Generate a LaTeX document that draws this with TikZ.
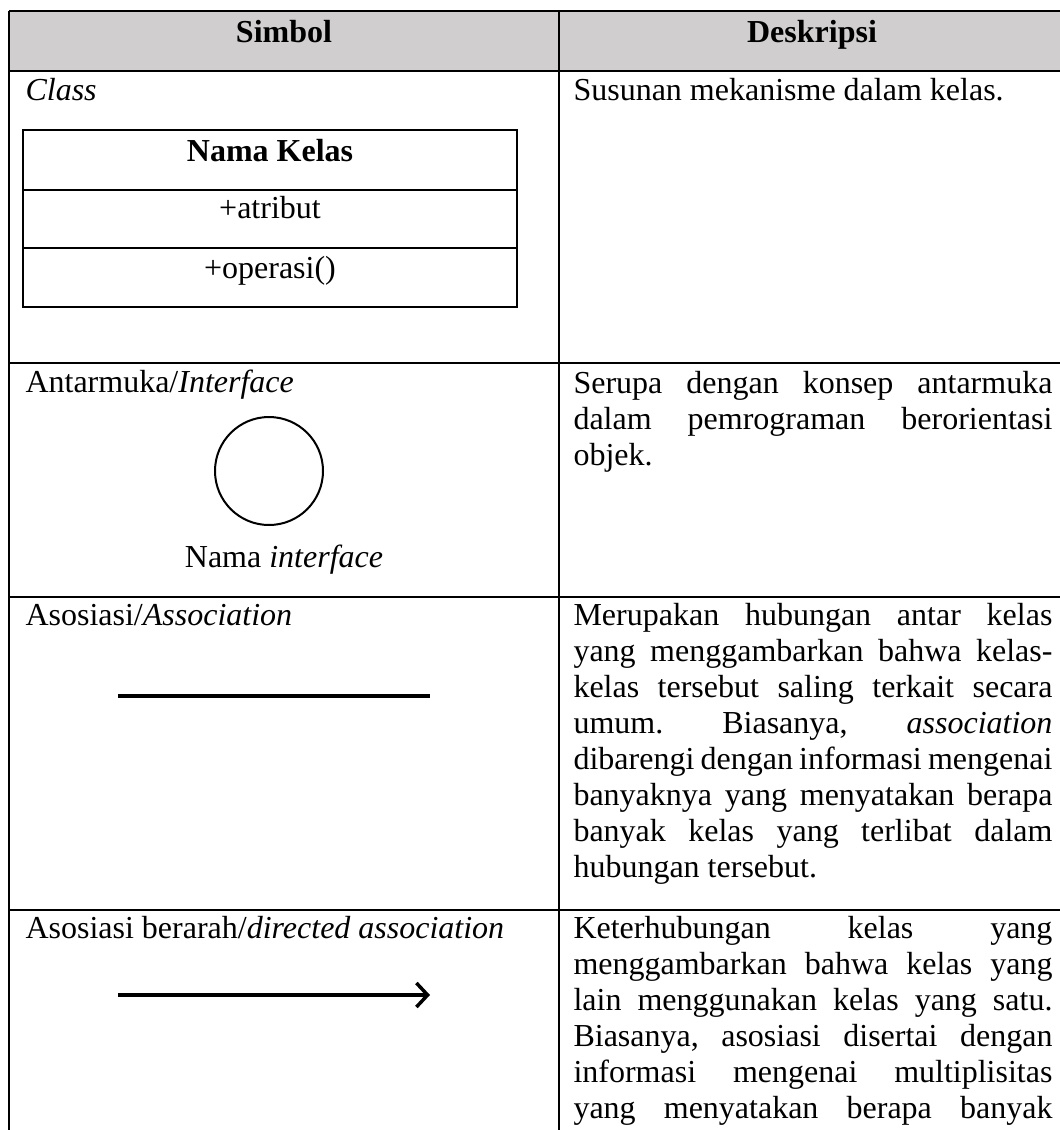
\documentclass[tikz,border=0pt]{standalone}
\usepackage{fontspec}
\setmainfont{Liberation Serif}
\usetikzlibrary{arrows.meta}

\definecolor{headgray}{RGB}{208,206,206}
\hyphenpenalty=10000
\frenchspacing

\tikzset{
  tabline/.style={line width=0.75pt},
  lbl/.style={anchor=base west, inner sep=0pt},
  ctr/.style={anchor=base, inner sep=0pt},
  desc/.style={anchor=base west, inner sep=0pt, text width=179.6pt, align=justify},
  umlline/.style={line width=1.5pt},
}

\begin{document}
\begin{tikzpicture}[x=0.375pt, y=-0.375pt, font=\fontsize{12}{13.54}\selectfont]
    \useasboundingbox (0,0) rectangle (1060,1130);
    \clip (0,0) rectangle (1060,1130);

    % table frame
    \fill[headgray] (9,11) rectangle (1070,71);
    \draw[tabline] (9,11) -- (1070,11);
    \foreach \y in {71,363,597,910}
        \draw[tabline] (9,\y) -- (1070,\y);
    \foreach \x in {9,559}
        \draw[tabline] (\x,11) -- (\x,1140);

    \node[ctr] (hSimbol) at (284,42) {\textbf{Simbol}};
    \node[ctr] (hDeskripsi) at (812,42) {\textbf{Deskripsi}};

    % class
    \node[lbl] (lClass) at (25,100) {\textit{Class}};
    \draw[tabline] (23,130) rectangle (517,307);
    \draw[tabline] (23,190) -- (517,190);
    \draw[tabline] (23,248) -- (517,248);
    \node[ctr] (kNama) at (270,161) {\textbf{Nama Kelas}};
    \node[ctr] (kAtribut) at (270,218) {+atribut};
    \node[ctr] (kOperasi) at (270,278) {+operasi()};

    % interface
    \node[lbl] (lIface) at (25,392) {Antarmuka/\textit{Interface}};
    \node[circle, draw, line width=0.75pt, inner sep=0pt, minimum size=40.5pt] (iface) at (269,471) {};
    \node[ctr] (lIfaceNama) at (284,567) {Nama \textit{interface}};

    % association
    \node[lbl] (lAso) at (25,625) {Asosiasi/\textit{Association}};
    \coordinate (asoL) at (118,696);
    \coordinate (asoR) at (430,696);
    \draw[umlline] (asoL) -- (asoR);

    % directed association
    \node[lbl] (lDir) at (25,938) {Asosiasi berarah/\textit{directed association}};
    \coordinate (dirL) at (118,995);
    \coordinate (dirR) at (430,995);
    \draw[umlline, line width=1.15pt, -{Straight Barb[length=4.2pt, width=9pt, line width=1.3pt]}] (dirL) -- (dirR);

    % descriptions
    \node[desc] (dClass) at (573,100) {Susunan mekanisme dalam kelas.};
    \node[desc] (dIface) at (573,393) {Serupa dengan konsep antarmuka\linebreak
        dalam pemrograman berorientasi\linebreak objek.};
    \node[desc] (dAso) at (573,625) {Merupakan hubungan antar kelas\linebreak
        yang menggambarkan bahwa kelas-\linebreak
        kelas tersebut saling terkait secara\linebreak
        umum. Biasanya, \textit{association}\linebreak
        dibarengi dengan informasi mengenai\linebreak
        banyaknya yang menyatakan berapa\linebreak
        banyak kelas yang terlibat dalam\linebreak
        hubungan tersebut.};
    \node[desc] (dDir) at (573,938) {Keterhubungan kelas yang\linebreak
        menggambarkan bahwa kelas yang\linebreak
        lain menggunakan kelas yang satu.\linebreak
        Biasanya, asosiasi disertai dengan\linebreak
        informasi mengenai multiplisitas\linebreak
        yang menyatakan berapa banyak\linebreak\mbox{}};
\end{tikzpicture}
\end{document}
